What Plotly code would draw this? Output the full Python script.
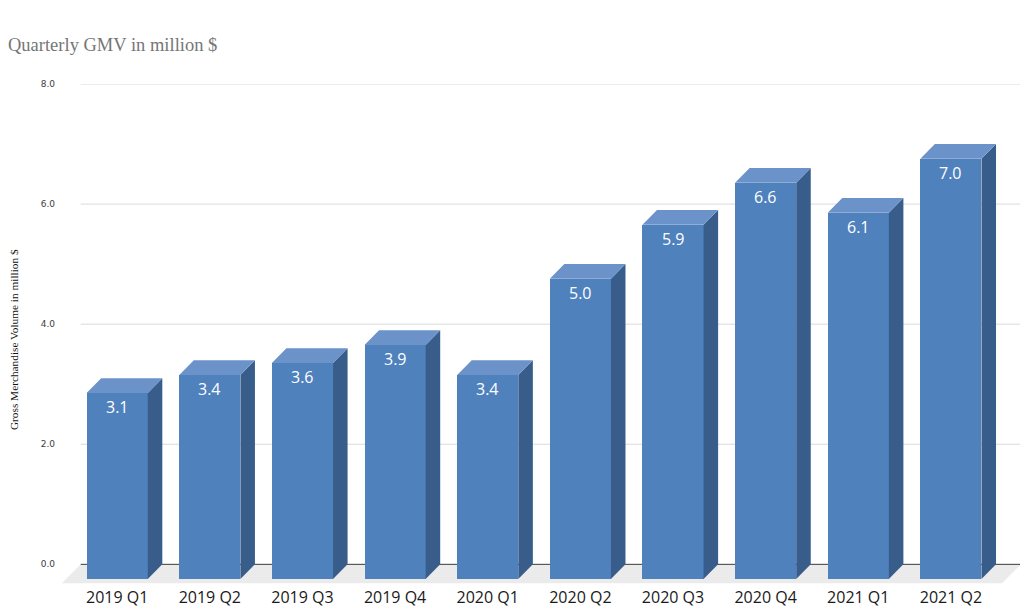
import plotly.graph_objects as go

# ---- data ----
categories = ["2019 Q1", "2019 Q2", "2019 Q3", "2019 Q4", "2020 Q1",
              "2020 Q2", "2020 Q3", "2020 Q4", "2021 Q1", "2021 Q2"]
gmv = [3.1, 3.4, 3.6, 3.9, 3.4, 5.0, 5.9, 6.6, 6.1, 7.0]
labels = ["3.1", "3.4", "3.6", "3.9", "3.4", "5.0", "5.9", "6.6", "6.1", "7.0"]
y_ticks = [0, 2, 4, 6, 8]

# ---- style / geometry (data units) ----
FRONT = "#4F81BD"
TOP = "#6B93C9"
SIDE = "#385D8A"
BAR_W = 0.66        # front face width (category units)
DX = 0.157          # depth offset in x
DY = 0.245          # depth offset in y (value units)
WALL_L, WALL_R = -0.394, 9.756
FLOOR_DX, FLOOR_DY = 0.205, 0.315

idx = list(range(len(categories)))

fig = go.Figure()

# front faces
fig.add_trace(go.Bar(
    x=idx, y=gmv, base=[-DY] * len(gmv), width=BAR_W,
    marker=dict(color=FRONT, line=dict(width=0)),
    hoverinfo="skip", showlegend=False))

# tops and sides
top_x, top_y, side_x, side_y = [], [], [], []
for i, v in zip(idx, gmv):
    xl, xr = i - BAR_W / 2, i + BAR_W / 2
    yt = v - DY
    top_x += [xl, xl + DX, xr + DX, xr, xl, None]
    top_y += [yt, yt + DY, yt + DY, yt, yt, None]
    side_x += [xr, xr + DX, xr + DX, xr, xr, None]
    side_y += [-DY, 0, yt + DY, yt, -DY, None]

fig.add_trace(go.Scatter(x=side_x, y=side_y, mode="lines", fill="toself",
                         fillcolor=SIDE, line=dict(width=0, color=SIDE),
                         hoverinfo="skip", showlegend=False))
fig.add_trace(go.Scatter(x=top_x, y=top_y, mode="lines", fill="toself",
                         fillcolor=TOP, line=dict(width=0, color=TOP),
                         hoverinfo="skip", showlegend=False))

# floor
fig.add_shape(type="path", layer="below", xref="x", yref="y",
              path=(f"M {WALL_L},0 L {WALL_R},0 L {WALL_R - FLOOR_DX},{-FLOOR_DY} "
                    f"L {WALL_L - FLOOR_DX},{-FLOOR_DY} Z"),
              fillcolor="#EBEBEB", line=dict(width=0))
# gridlines on back wall
for t in y_ticks:
    fig.add_shape(type="line", layer="below", xref="x", yref="y",
                  x0=WALL_L, x1=WALL_R, y0=t, y1=t,
                  line=dict(color="#3A3A3A" if t == 0 else "#D9D9D9", width=1))

# value labels
for i, v, lab in zip(idx, gmv, labels):
    fig.add_annotation(x=i, y=v - DY, text=lab, showarrow=False,
                       yanchor="middle", yshift=-14,
                       font=dict(family="Open Sans", size=16, color="white"))

# axis title
fig.add_annotation(xref="paper", yref="paper", x=-0.0455, y=0.49,
                   text="Gross Merchandise Volume in million $", textangle=-90,
                   showarrow=False, xanchor="center", yanchor="middle",
                   font=dict(family="Liberation Serif", size=11.3, color="#111111"))

# page has an 8px body margin, so the figure is 16px smaller and shifted
fig.update_layout(
    width=1020, height=604,
    margin=dict(l=50, r=4, t=76, b=26),
    paper_bgcolor="white", plot_bgcolor="white",
    title=dict(text="Quarterly GMV in million $", xref="container", yref="container",
               x=0.0, xanchor="left", y=1 - 37 / 604, yanchor="middle",
               font=dict(family="Liberation Serif", size=18.5, color="#767676")),
    xaxis=dict(range=[-0.639, 9.789], tickvals=idx, ticktext=categories,
               showgrid=False, zeroline=False, showline=False, ticks="",
               tickfont=dict(family="Open Sans", size=16, color="#1a1a1a")),
    yaxis=dict(range=[-0.361, 8.0], tickvals=y_ticks, tickformat=".1f",
               showgrid=False, zeroline=False, showline=False, ticks="",
               ticklabelstandoff=2,
               tickfont=dict(family="DejaVu Sans", size=9, color="#404040")),
    bargap=0,
)

fig.write_html("out.html")
